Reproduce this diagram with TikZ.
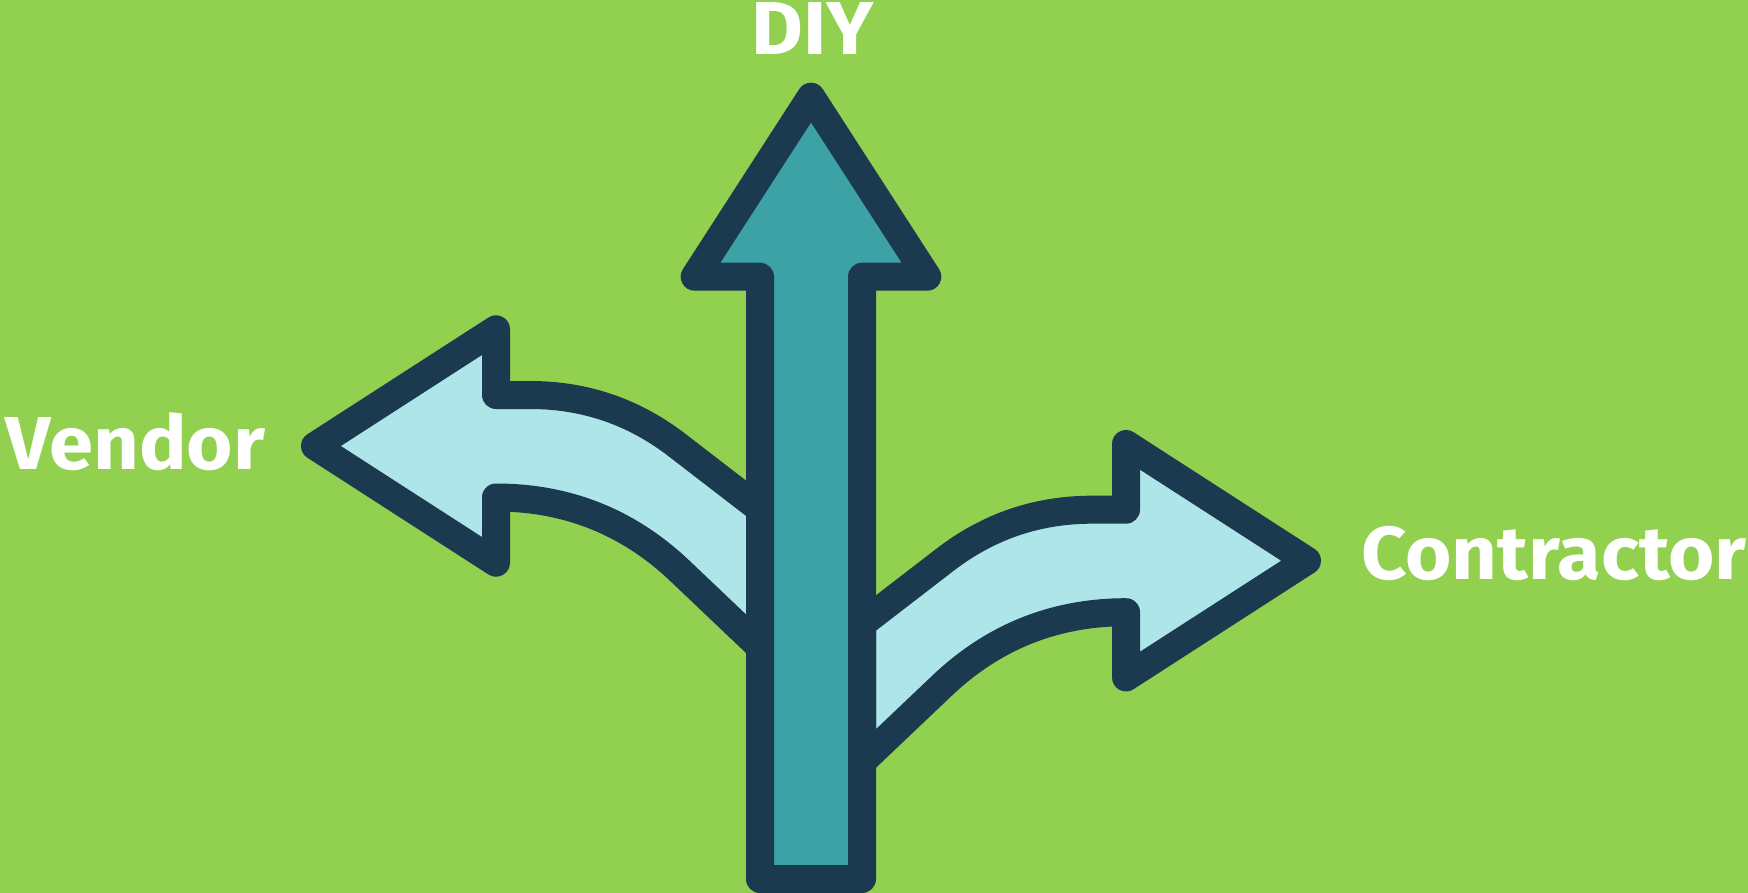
\documentclass[tikz,border=0pt]{standalone}
\usepackage{fontspec}
\setmainfont{Fira Sans}
\definecolor{bggreen}{HTML}{92D050}
\definecolor{navy}{HTML}{1C3A4F}
\definecolor{teal}{HTML}{3DA2A6}
\definecolor{lightblue}{HTML}{AEE5E8}
\tikzset{
  arrowshape/.style={draw=navy, line width=28pt, line join=round, line cap=round},
  label/.style={text=white, font=\fontsize{75}{80}\selectfont\bfseries, inner sep=0pt, anchor=base, xscale=1.06}
}
\begin{document}
\begin{tikzpicture}[x=1pt, y=-1pt]
\useasboundingbox (0,0) rectangle (1748,893);
\fill[bggreen] (0,0) rectangle (1748,893);
% Vendor arrow (left)
\filldraw[arrowshape, fill=lightblue]
  (315,446) -- (496,329.3) -- (496,395) -- (530,395)
  .. controls (584.7,395) and (633.6,411.7) .. (676.9,445)
  -- (760,509) -- (760,647) -- (679.9,570.9)
  .. controls (628.4,522) and (567.1,497.5) .. (496,497.5)
  -- (496,562.7) -- cycle;
% Contractor arrow (right)
\filldraw[arrowshape, fill=lightblue]
  (1307,560.7) -- (1126,444) -- (1126,509.7) -- (1092,509.7)
  .. controls (1037.3,509.7) and (988.4,526.4) .. (945.1,559.7)
  -- (862,623.7) -- (862,761.7) -- (942.1,685.6)
  .. controls (993.6,636.7) and (1054.9,612.2) .. (1126,612.2)
  -- (1126,677.4) -- cycle;
% DIY arrow (up)
\filldraw[arrowshape, fill=teal]
  (760,879) -- (760,276.7) -- (694.7,276.7) -- (811,96.7)
  -- (927.3,276.7) -- (862,276.7) -- (862,879) -- cycle;
% labels
\node[label] (diy) at (813,55) {DIY};
\node[label] (vendor) at (135.5,469) {Vendor};
\node[label] (contractor) at (1554,579.3) {Contractor};
\end{tikzpicture}
\end{document}
